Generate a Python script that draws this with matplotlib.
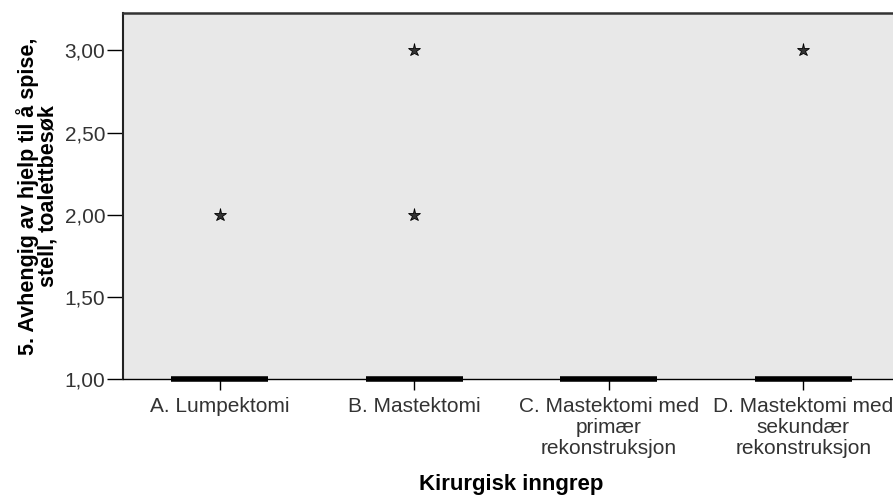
import matplotlib
matplotlib.use("Agg")
import matplotlib.pyplot as plt

plt.rcParams['font.family'] = ['Liberation Sans', 'DejaVu Sans']

categories = ["A. Lumpektomi", "B. Mastektomi",
              "C. Mastektomi med\nprimær\nrekonstruksjon",
              "D. Mastektomi med\nsekundær\nrekonstruksjon"]
medians = [1.0, 1.0, 1.0, 1.0]
q1 = [1.0, 1.0, 1.0, 1.0]
q3 = [1.0, 1.0, 1.0, 1.0]
whislo = [1.0, 1.0, 1.0, 1.0]
whishi = [1.0, 1.0, 1.0, 1.0]
outliers = [[2.0], [2.0, 3.0], [], [3.0]]
yticks = [1.0, 1.5, 2.0, 2.5, 3.0]
ylabel = "5. Avhengig av hjelp til å spise,\nstell, toalettbesøk"
xlabel = "Kirurgisk inngrep"

fig = plt.figure(figsize=(8.93, 4.97), dpi=100)
ax = fig.add_axes([122.5/893, 1-379/497, (900.5-122.5)/893, (379-12.7)/497])
ax.set_facecolor('#e8e8e8')

stats = []
for i in range(len(categories)):
    stats.append(dict(med=medians[i], q1=q1[i], q3=q3[i], whislo=whislo[i],
                      whishi=whishi[i], fliers=outliers[i], label=categories[i]))
positions = list(range(len(categories)))
res = ax.bxp(stats, positions=positions, widths=0.5, showcaps=False,
             boxprops=dict(linewidth=0),
             whiskerprops=dict(linewidth=0),
             medianprops=dict(color='black', linewidth=4, solid_capstyle='butt'),
             flierprops=dict(marker='*', markersize=9.5, markerfacecolor='#333333',
                             markeredgecolor='black', markeredgewidth=0.6, linestyle='none'))
for m in res['medians']:
    m.set_clip_on(False)
    m.set_zorder(5)
for f in res['fliers']:
    f.set_clip_on(False)

ax.set_xlim(-0.5, 3.5)
ax.set_ylim(1.0, 3.23)
ax.set_yticks(yticks)
ax.set_yticklabels([f"{v:.2f}".replace('.', ',') for v in yticks])
ax.set_xticks(positions)
ax.set_xticklabels(categories, linespacing=1.12)

ax.tick_params(axis='y', direction='out', length=11.5, width=1, pad=1, labelsize=15, colors='black')
ax.tick_params(axis='x', direction='out', length=8, width=1, pad=5, labelsize=15, colors='black')
for lbl in ax.get_yticklabels() + ax.get_xticklabels():
    lbl.set_color('#333333')

ax.spines['right'].set_visible(False)
ax.spines['top'].set_color('#333333')
ax.spines['top'].set_linewidth(1.8)
ax.spines['left'].set_color('#222222')
ax.spines['left'].set_linewidth(1.5)
ax.spines['bottom'].set_color('black')
ax.spines['bottom'].set_linewidth(1)

ax.set_ylabel(ylabel, fontsize=15.5, fontweight='bold', linespacing=0.93, labelpad=4)
ax.set_xlabel(xlabel, fontsize=16, fontweight='bold', labelpad=12)

fig.savefig("out.png", dpi=100)
